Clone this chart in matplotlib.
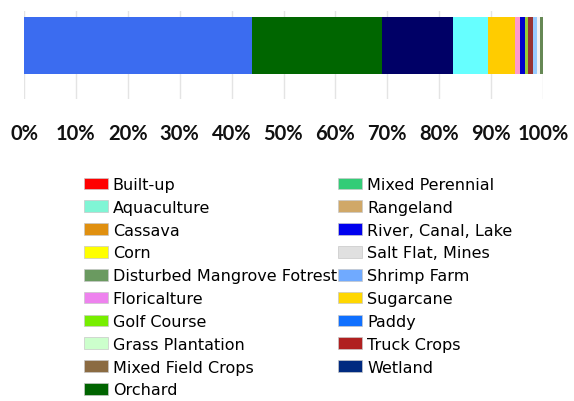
import matplotlib
matplotlib.use("Agg")
import matplotlib.pyplot as plt
from matplotlib.patches import Patch

# land use share along one stacked bar (percent of area)
bar_classes = ["Paddy", "Orchard", "Wetland", "Aquaculture", "Sugarcane",
               "Floricalture", "River, Canal, Lake", "Golf Course", "Truck Crops",
               "Shrimp Farm", "Salt Flat, Mines", "Disturbed Mangrove Fotrest"]
bar_values = [44.0, 25.0, 13.6, 6.8, 5.3, 0.9, 1.0, 0.5, 0.9, 0.8, 0.7, 0.5]
bar_colors = ["#3b6cf0", "#006600", "#000066", "#66ffff", "#ffcc00",
              "#ff99cc", "#0000cc", "#99cc33", "#993333", "#99ccff",
              "#f4f4f4", "#668855"]

# legend entries, in the order they are listed
legend_labels = ["Built-up", "Aquaculture", "Cassava", "Corn",
                 "Disturbed Mangrove Fotrest", "Floricalture", "Golf Course",
                 "Grass Plantation", "Mixed Field Crops", "Orchard",
                 "Mixed Perennial", "Rangeland", "River, Canal, Lake",
                 "Salt Flat, Mines", "Shrimp Farm", "Sugarcane", "Paddy",
                 "Truck Crops", "Wetland"]
legend_colors = ["#ff0000", "#80f5d5", "#e09010", "#ffff00", "#6a9a60",
                 "#ee82ee", "#77ee00", "#ccffcc", "#8b6b42", "#006400",
                 "#33cc77", "#d0a868", "#0000ee", "#e0e0e0", "#70aaff",
                 "#ffd700", "#1070ff", "#b02020", "#002a80"]

tick_vals = list(range(0, 101, 10))
tick_labels = [f"{t}%" for t in tick_vals]

fig = plt.figure(figsize=(5.74, 4.02), dpi=100)
ax = fig.add_axes([24 / 574, 1 - 100 / 402, 519 / 574, 88 / 402])

left = 0
for v, c in zip(bar_values, bar_colors):
    ax.barh(0.61, v, left=left, height=0.652, color=c, linewidth=0, zorder=2)
    left += v

ax.set_xlim(0, 100)
ax.set_ylim(0, 1)
ax.set_xticks(tick_vals)
ax.set_xticklabels(tick_labels, family="Lato", fontweight="bold", fontsize=14.5)
ax.tick_params(axis="x", length=0, pad=17.5, colors="#111111")
ax.set_yticks([])
ax.grid(axis="x", color="#e4e4e4", linewidth=1, zorder=0)
for s in ax.spines.values():
    s.set_visible(False)

handles = [Patch(facecolor=c, edgecolor="#c8c8c8", linewidth=0.5) for c in legend_colors]
fig.legend(handles, legend_labels, ncol=2, loc="upper left",
           bbox_to_anchor=(84 / 574, 1 - 178 / 402),
           prop={"family": "DejaVu Sans", "size": 11.5},
           frameon=False, handlelength=1.5, handleheight=0.75,
           handletextpad=0.3, labelspacing=0.49, columnspacing=0.1,
           borderaxespad=0, borderpad=0)

fig.savefig("out.png", dpi=100)
